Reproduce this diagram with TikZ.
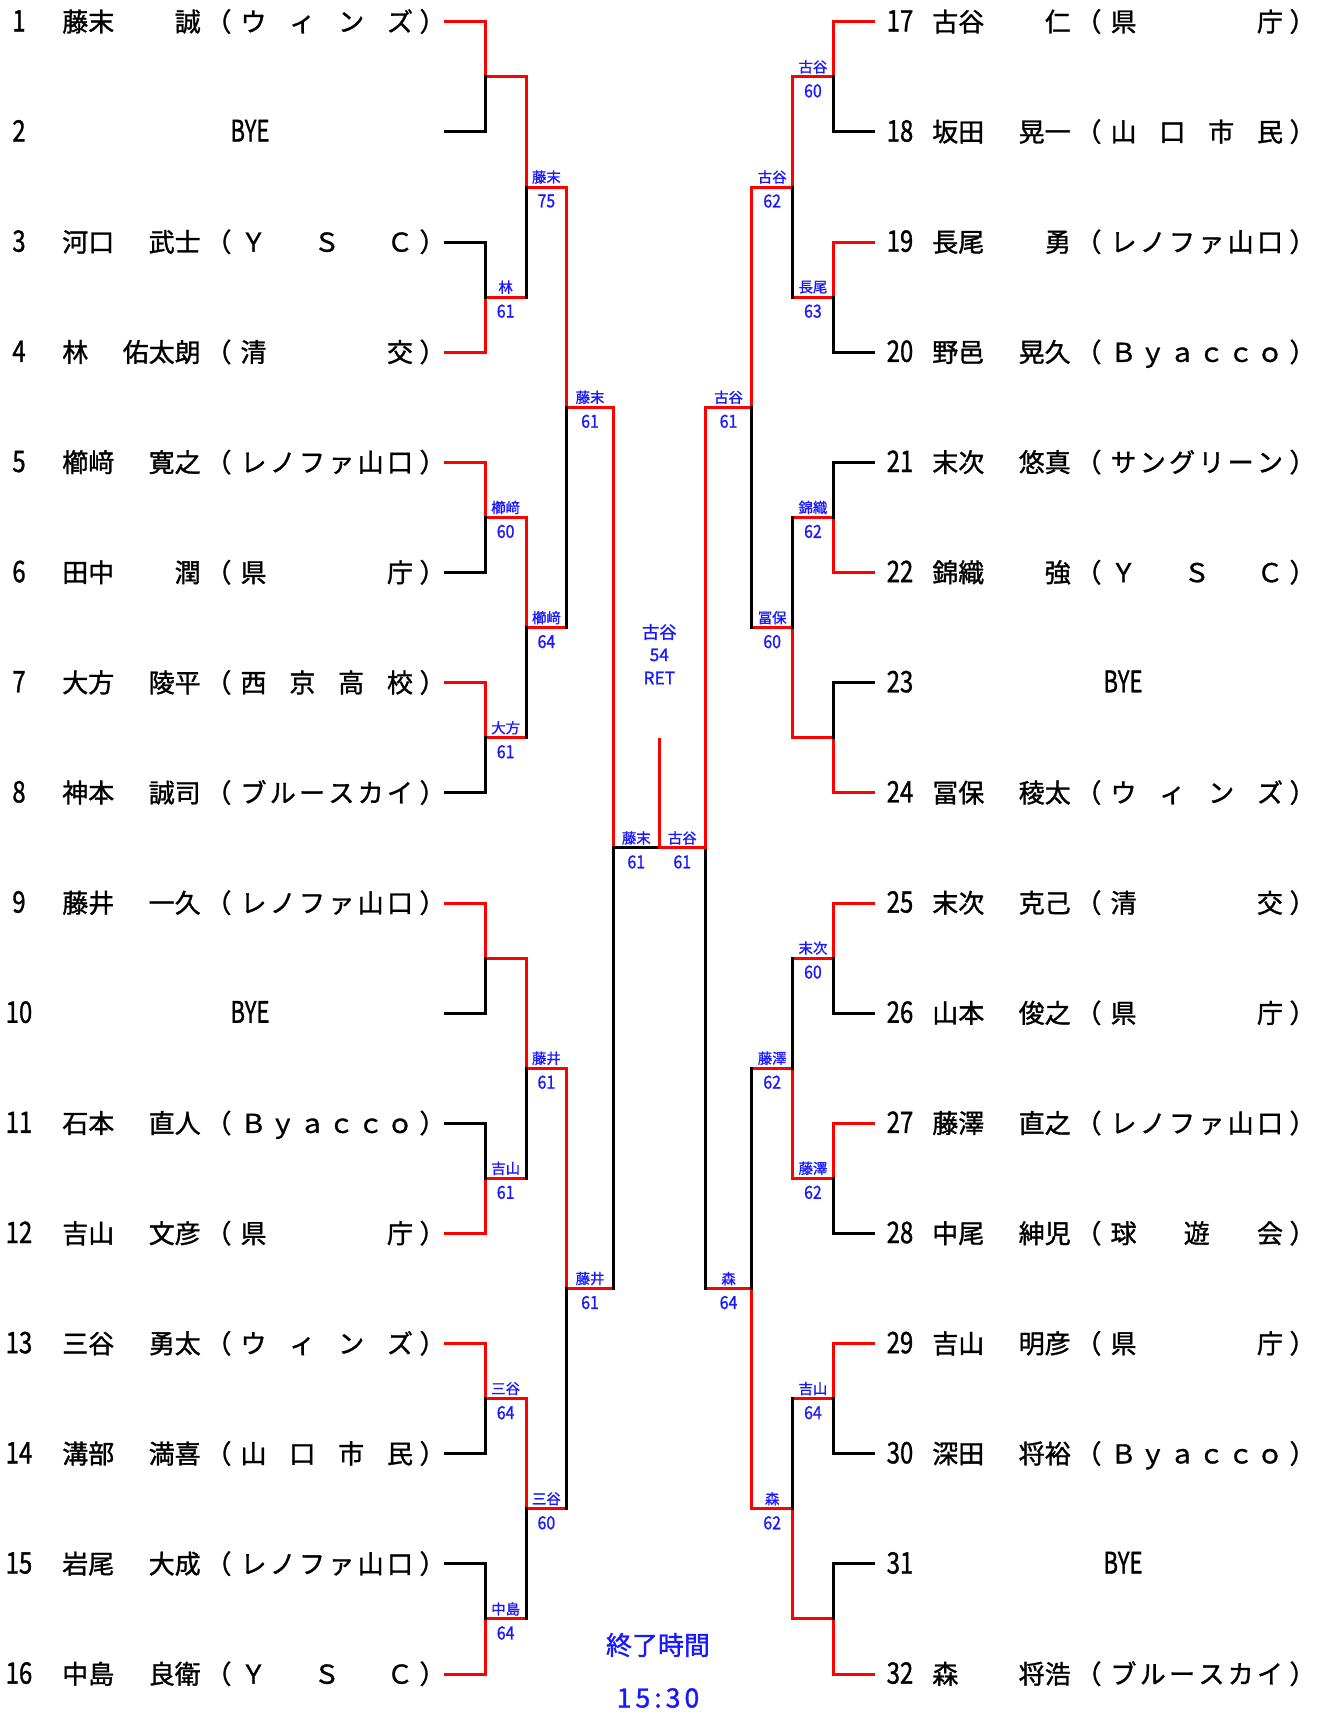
\documentclass[tikz,border=0pt]{standalone}
\usepackage{fontspec}
\usepackage{graphicx}
\setmainfont{Noto Sans CJK JP}[FakeBold=1.2]
\definecolor{tblue}{RGB}{25,25,255}
\definecolor{bred}{RGB}{255,0,0}
\newcommand\fRow{\fontsize{19.5pt}{21pt}\selectfont}
\newcommand\fLab{\fontsize{10.8pt}{12pt}\selectfont}
\newcommand\fSc{\fontsize{13.5pt}{15pt}\selectfont}
\newcommand\fChamp{\fontsize{13pt}{15pt}\selectfont}
\newcommand\RY[1]{(21.8+(#1-1)*110.15)}
% row: #1 x offset, #2 number x, #3 row index, #4 number, #5 surname, #6 given, #7 count, #8 list
\newcommand\RowT[8]{%
  \pgfmathsetmacro\yb{21.8+(#3-1)*110.15+9.6}
  \node[rowtxt,anchor=base] (num#4) at (#2,\yb) {\scalebox{0.92}[1.14]{#4}};
  \node[rowtxt,anchor=base west] (sur#4) at (62+#1,\yb) {#5};
  \node[rowtxt,anchor=base east] (giv#4) at (201+#1,\yb) {#6};
  \node[rowtxt,anchor=base] (lp#4) at (218.5+#1,\yb) {（};
  \node[rowtxt,anchor=base] (rp#4) at (432.5+#1,\yb) {）};
  \foreach \ch [count=\j] in {#8} {
    \pgfmathsetmacro\xc{253.5+#1+(\j-1)*146.5/(#7-1)}
    \node[rowtxt,anchor=base] (af#4-\j) at (\xc,\yb) {\ch};
  }%
}
% bye row: #1 number x, #2 bye x, #3 row index, #4 number
\newcommand\ByeRow[4]{%
  \pgfmathsetmacro\yb{21.8+(#3-1)*110.15+9.6}
  \node[rowtxt,anchor=base] (num#4) at (#1,\yb) {\scalebox{0.92}[1.14]{#4}};
  \node[rowtxt,anchor=base] (bye#4) at (#2,\yb) {\scalebox{0.85}[1.14]{BYE}};
}
% match: #1 x in, #2 x vertical, #3 x out, #4 y top, #5 y bottom, #6 winner (1 top, 2 bottom)
\newcommand\Mt[6]{%
  \pgfmathsetmacro\mT{#4}\pgfmathsetmacro\mB{#5}\pgfmathsetmacro\mM{(\mT+\mB)/2}
  \ifnum#6=1 \let\mW\mT \let\mL\mB \else \let\mW\mB \let\mL\mT \fi
  \draw[rd] (#1,\mW) -- (#2,\mW) -- (#2,\mM) -- (#3,\mM);
  \draw[blk] (#1,\mL) -- (#2,\mL) -- (#2,\mM);
}
% label: #1 x, #2 y of line, #3 name, #4 score, #5 node name
\newcommand\Lbl[5]{%
  \pgfmathsetmacro\ly{#2}
  \node[lbn] (#5n) at (#1,\ly-10) {#3};
  \node[lbs] (#5s) at (#1,\ly+14) {\scalebox{0.88}[1]{#4}};
}
\begin{document}
\begin{tikzpicture}[x=0.75pt,y=-0.75pt,
  rowtxt/.style={inner sep=0pt,font=\fRow},
  lbn/.style={inner sep=0pt,font=\fLab,text=tblue},
  lbs/.style={inner sep=0pt,font=\fSc,text=tblue},
  champ/.style={inner sep=0pt,font=\fChamp,text=tblue},
  endt/.style={inner sep=0pt,font=\fRow,text=tblue},
  blk/.style={draw=black,line width=2.25pt,line cap=rect,line join=miter},
  rd/.style={draw=bred,line width=2.25pt,line cap=rect,line join=miter}]
\fill[white] (0,0) rectangle (1319,1719);
\useasboundingbox (0,0) rectangle (1319,1719);
\def\xs{445.5}\def\va{485.3}\def\vb{526}\def\vc{566.8}\def\vd{613.3}\def\cx{659.3}
\def\xe{873.5}\def\ra{833.3}\def\rb{792.6}\def\rc{751.8}\def\rd{705.3}
% ---------- left names ----------
\RowT{0}{19}{1}{1}{藤末}{誠}{4}{ウ,ィ,ン,ズ}
\ByeRow{19}{250}{2}{2}
\RowT{0}{19}{3}{3}{河口}{武士}{3}{Ｙ,Ｓ,Ｃ}
\RowT{0}{19}{4}{4}{林}{佑太朗}{2}{清,交}
\RowT{0}{19}{5}{5}{櫛﨑}{寛之}{6}{レ,ノ,フ,ァ,山,口}
\RowT{0}{19}{6}{6}{田中}{潤}{2}{県,庁}
\RowT{0}{19}{7}{7}{大方}{陵平}{4}{西,京,高,校}
\RowT{0}{19}{8}{8}{神本}{誠司}{6}{ブ,ル,ー,ス,カ,イ}
\RowT{0}{19}{9}{9}{藤井}{一久}{6}{レ,ノ,フ,ァ,山,口}
\ByeRow{19}{250}{10}{10}
\RowT{0}{19}{11}{11}{石本}{直人}{6}{Ｂ,ｙ,ａ,ｃ,ｃ,ｏ}
\RowT{0}{19}{12}{12}{吉山}{文彦}{2}{県,庁}
\RowT{0}{19}{13}{13}{三谷}{勇太}{4}{ウ,ィ,ン,ズ}
\RowT{0}{19}{14}{14}{溝部}{満喜}{4}{山,口,市,民}
\RowT{0}{19}{15}{15}{岩尾}{大成}{6}{レ,ノ,フ,ァ,山,口}
\RowT{0}{19}{16}{16}{中島}{良衛}{3}{Ｙ,Ｓ,Ｃ}
% ---------- right names ----------
\RowT{870}{900}{1}{17}{古谷}{仁}{2}{県,庁}
\RowT{870}{900}{2}{18}{坂田}{晃一}{4}{山,口,市,民}
\RowT{870}{900}{3}{19}{長尾}{勇}{6}{レ,ノ,フ,ァ,山,口}
\RowT{870}{900}{4}{20}{野邑}{晃久}{6}{Ｂ,ｙ,ａ,ｃ,ｃ,ｏ}
\RowT{870}{900}{5}{21}{末次}{悠真}{6}{サ,ン,グ,リ,ー,ン}
\RowT{870}{900}{6}{22}{錦織}{強}{3}{Ｙ,Ｓ,Ｃ}
\ByeRow{900}{1123}{7}{23}
\RowT{870}{900}{8}{24}{冨保}{稜太}{4}{ウ,ィ,ン,ズ}
\RowT{870}{900}{9}{25}{末次}{克己}{2}{清,交}
\RowT{870}{900}{10}{26}{山本}{俊之}{2}{県,庁}
\RowT{870}{900}{11}{27}{藤澤}{直之}{6}{レ,ノ,フ,ァ,山,口}
\RowT{870}{900}{12}{28}{中尾}{紳児}{3}{球,遊,会}
\RowT{870}{900}{13}{29}{吉山}{明彦}{2}{県,庁}
\RowT{870}{900}{14}{30}{深田}{将裕}{6}{Ｂ,ｙ,ａ,ｃ,ｃ,ｏ}
\ByeRow{900}{1123}{15}{31}
\RowT{870}{900}{16}{32}{森}{将浩}{6}{ブ,ル,ー,ス,カ,イ}
% ---------- left bracket ----------
\Mt{\xs}{\va}{\vb}{\RY{1}}{\RY{2}}{1}
\Mt{\xs}{\va}{\vb}{\RY{3}}{\RY{4}}{2}
\Mt{\xs}{\va}{\vb}{\RY{5}}{\RY{6}}{1}
\Mt{\xs}{\va}{\vb}{\RY{7}}{\RY{8}}{1}
\Mt{\xs}{\va}{\vb}{\RY{9}}{\RY{10}}{1}
\Mt{\xs}{\va}{\vb}{\RY{11}}{\RY{12}}{2}
\Mt{\xs}{\va}{\vb}{\RY{13}}{\RY{14}}{1}
\Mt{\xs}{\va}{\vb}{\RY{15}}{\RY{16}}{2}
\Mt{\vb}{\vb}{\vc}{\RY{1.5}}{\RY{3.5}}{1}
\Mt{\vb}{\vb}{\vc}{\RY{5.5}}{\RY{7.5}}{1}
\Mt{\vb}{\vb}{\vc}{\RY{9.5}}{\RY{11.5}}{1}
\Mt{\vb}{\vb}{\vc}{\RY{13.5}}{\RY{15.5}}{1}
\Mt{\vc}{\vc}{\vd}{\RY{2.5}}{\RY{6.5}}{1}
\Mt{\vc}{\vc}{\vd}{\RY{10.5}}{\RY{14.5}}{1}
% ---------- right bracket ----------
\Mt{\xe}{\ra}{\rb}{\RY{1}}{\RY{2}}{1}
\Mt{\xe}{\ra}{\rb}{\RY{3}}{\RY{4}}{1}
\Mt{\xe}{\ra}{\rb}{\RY{5}}{\RY{6}}{2}
\Mt{\xe}{\ra}{\rb}{\RY{7}}{\RY{8}}{2}
\Mt{\xe}{\ra}{\rb}{\RY{9}}{\RY{10}}{1}
\Mt{\xe}{\ra}{\rb}{\RY{11}}{\RY{12}}{1}
\Mt{\xe}{\ra}{\rb}{\RY{13}}{\RY{14}}{1}
\Mt{\xe}{\ra}{\rb}{\RY{15}}{\RY{16}}{2}
\Mt{\rb}{\rb}{\rc}{\RY{1.5}}{\RY{3.5}}{1}
\Mt{\rb}{\rb}{\rc}{\RY{5.5}}{\RY{7.5}}{2}
\Mt{\rb}{\rb}{\rc}{\RY{9.5}}{\RY{11.5}}{2}
\Mt{\rb}{\rb}{\rc}{\RY{13.5}}{\RY{15.5}}{2}
\Mt{\rc}{\rc}{\rd}{\RY{2.5}}{\RY{6.5}}{1}
\Mt{\rc}{\rc}{\rd}{\RY{10.5}}{\RY{14.5}}{2}
% ---------- semifinals and final ----------
\pgfmathsetmacro\sT{\RY{4.5}}\pgfmathsetmacro\sB{\RY{12.5}}\pgfmathsetmacro\sM{\RY{8.5}}
\draw[rd] (\vd,\sT) -- (\vd,\sM);
\draw[blk] (\vd,\sB) -- (\vd,\sM) -- (\cx,\sM);
\draw[blk] (\rd,\sB) -- (\rd,\sM);
\draw[rd] (\rd,\sT) -- (\rd,\sM) -- (\cx,\sM);
\draw[rd] (\cx,\sM) -- (\cx,739.5);
% ---------- labels left ----------
\Lbl{505.65}{\RY{3.5}}{林}{61}{la2}
\Lbl{505.65}{\RY{5.5}}{櫛﨑}{60}{la3}
\Lbl{505.65}{\RY{7.5}}{大方}{61}{la4}
\Lbl{505.65}{\RY{11.5}}{吉山}{61}{la6}
\Lbl{505.65}{\RY{13.5}}{三谷}{64}{la7}
\Lbl{505.65}{\RY{15.5}}{中島}{64}{la8}
\Lbl{546.4}{\RY{2.5}}{藤末}{75}{lb1}
\Lbl{546.4}{\RY{6.5}}{櫛﨑}{64}{lb2}
\Lbl{546.4}{\RY{10.5}}{藤井}{61}{lb3}
\Lbl{546.4}{\RY{14.5}}{三谷}{60}{lb4}
\Lbl{590.05}{\RY{4.5}}{藤末}{61}{lc1}
\Lbl{590.05}{\RY{12.5}}{藤井}{61}{lc2}
\Lbl{636.3}{\RY{8.5}}{藤末}{61}{fl}
\Lbl{682.3}{\RY{8.5}}{古谷}{61}{fr}
% ---------- labels right ----------
\Lbl{812.95}{\RY{1.5}}{古谷}{60}{ra1}
\Lbl{812.95}{\RY{3.5}}{長尾}{63}{ra2}
\Lbl{812.95}{\RY{5.5}}{錦織}{62}{ra3}
\Lbl{812.95}{\RY{9.5}}{末次}{60}{ra5}
\Lbl{812.95}{\RY{11.5}}{藤澤}{62}{ra6}
\Lbl{812.95}{\RY{13.5}}{吉山}{64}{ra7}
\Lbl{772.2}{\RY{2.5}}{古谷}{62}{rb1}
\Lbl{772.2}{\RY{6.5}}{冨保}{60}{rb2}
\Lbl{772.2}{\RY{10.5}}{藤澤}{62}{rb3}
\Lbl{772.2}{\RY{14.5}}{森}{62}{rb4}
\Lbl{728.55}{\RY{4.5}}{古谷}{61}{rc1}
\Lbl{728.55}{\RY{12.5}}{森}{64}{rc2}
% ---------- champion and end time ----------
\node[champ] (chname) at (659.3,632) {古谷};
\node[champ] (chscore) at (659.3,655) {54};
\node[champ] (chret) at (659.3,678) {RET};
\node[endt] (endlabel) at (658,1645) {終了時間};
\node[endt,font=\fontsize{20pt}{22pt}\selectfont] (endtime) at (658,1698) {1\kern3pt5\kern3pt:\kern3pt3\kern3pt0};
\end{tikzpicture}
\end{document}
